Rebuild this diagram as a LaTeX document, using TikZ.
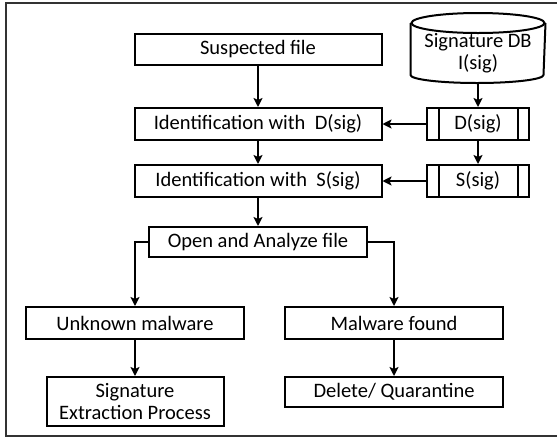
\documentclass[tikz,border=0pt]{standalone}
\usepackage{fontspec}
\setmainfont{Carlito}
\usetikzlibrary{arrows.meta}

\begin{document}
\begin{tikzpicture}[->,>={Stealth[length=9pt,width=9pt,inset=2pt]},x=1pt,y=-1pt,line width=2pt,
                    every edge/.style={draw,line width=2pt},
                    every node/.style={font=\fontsize{20.5}{22}\selectfont}]
  \tikzstyle{box}=[draw,rectangle,minimum width=218pt,minimum height=31pt,inner sep=0pt,align=center]
  \tikzstyle{sigbox}=[box,minimum width=102pt,minimum height=32pt]

  \useasboundingbox (0,0) rectangle (557,437);
  \draw[-,black!80,line width=1.5pt] (565,3) -- (6,3) -- (6,436) -- (565,436);

  \node[box,minimum width=247pt] (sus)  at (258,49.5) {Suspected file};
  \node[box,minimum width=247pt,minimum height=32pt] (idd) at (258,124) {Identification with~ D(sig)};
  \node[box,minimum width=247pt,minimum height=32pt] (ids) at (258,181) {Identification with~ S(sig)};
  \node[box,minimum height=30pt] (open) at (258,242)   {Open and Analyze file};
  \node[box,minimum height=32pt] (unk)  at (135,323)   {Unknown malware};
  \node[box,minimum height=32pt] (mal)  at (394,323)   {Malware found};
  \node[box,minimum width=177pt,minimum height=49pt] (sigx) at (135,401.5) {Signature\\Extraction Process};
  \node[box,minimum height=30pt] (del)  at (394,392)   {Delete/ Quarantine};

  \node[minimum width=133pt,minimum height=58pt,inner sep=0pt,align=center] (db) at (478,53) {Signature DB\\I(sig)};
  \node[sigbox] (dsig) at (478,124) {D(sig)};
  \node[sigbox] (ssig) at (478,181) {S(sig)};

  % database cylinder
  \draw[-] (db.north) ellipse (66.5pt and 10pt);
  \draw[-] (db.north west) -- ([yshift=8pt]db.south west)
        arc[start angle=180,end angle=360,x radius=66.5pt,y radius=8pt] -- (db.north east);
  % side bars of the signature boxes
  \foreach \n in {dsig,ssig}
    \draw[-] ([xshift=13pt]\n.north west) -- ([xshift=13pt]\n.south west)
             ([xshift=-12pt]\n.north east) -- ([xshift=-12pt]\n.south east);

  \path (sus) edge (idd)
        (idd) edge (ids)
        (ids) edge (open)
        (db) edge (dsig)
        (dsig) edge (ssig)
               edge (idd)
        (ssig) edge (ids)
        (unk) edge (sigx)
        (mal) edge (del);
  \draw (open.west) -| (unk);
  \draw (open.east) -| (mal);

\end{tikzpicture}
\end{document}
